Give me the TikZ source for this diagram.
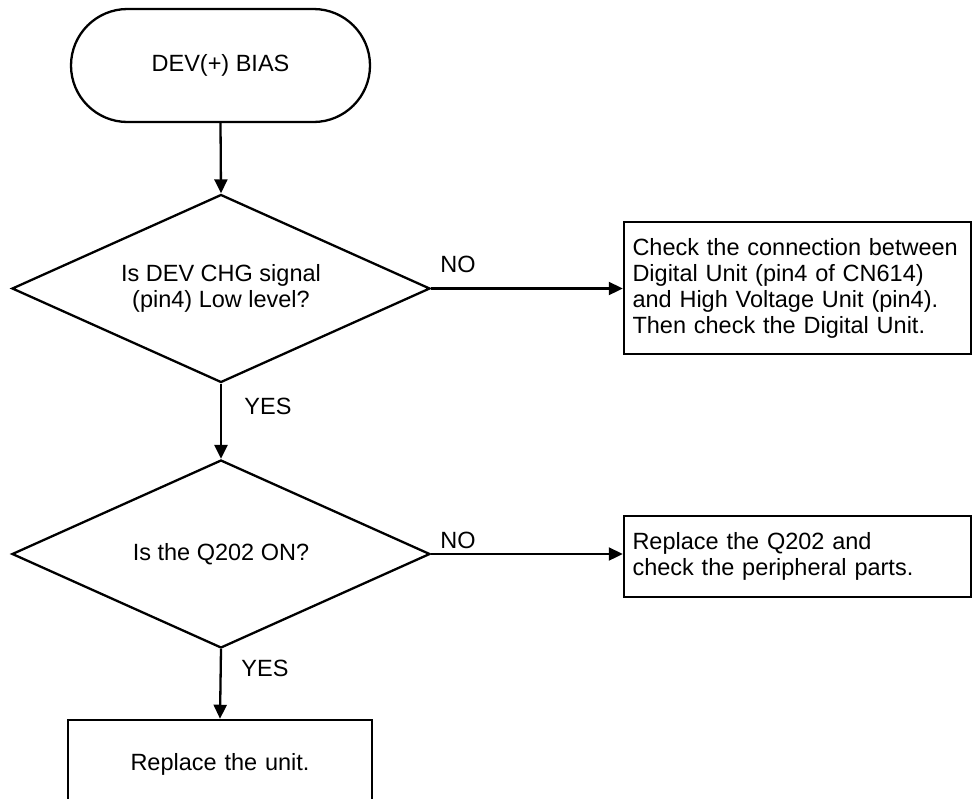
\documentclass[tikz,border=0pt]{standalone}
\usepackage{fontspec}
\setmainfont{Liberation Sans}
\usetikzlibrary{positioning, arrows.meta, shapes.geometric, shapes.misc}
\tikzset{
  term/.style={rounded rectangle, draw, line width=2.3pt, minimum width=299pt,
    minimum height=113pt, inner sep=0pt},
  dec/.style={diamond, draw, line width=2.3pt, shape aspect=2.22, minimum width=418pt,
    minimum height=188pt, inner sep=0pt, align=center},
  act/.style={rectangle, draw, line width=2.5pt, text width=330pt, align=left,
    inner xsep=8.5pt, inner ysep=0pt, minimum width=347pt},
  flow/.style={line width=2.3pt, -{Triangle[length=14pt, width=13pt]}},
  lbl/.style={inner sep=0pt},
}

\begin{document}
\begin{tikzpicture}[x=1pt, y=-1pt, font=\fontsize{23.5}{26}\selectfont]
\clip (0,0) rectangle (973,798);

% ── Columna izquierda ───────────────────────────────────────
\node[term] (start) at (220.5, 65.5) {DEV(+) BIAS};

\node[dec] (chg) at (221, 288.5) {Is DEV CHG signal\\(pin4) Low level?};

\node[dec] (q202) at (221, 554) {Is the Q202 ON?};

\node[act, text width=287pt, align=center, minimum width=304pt,
  minimum height=88pt] (unit) at (220, 764) {Replace the unit.};

% ── Columna derecha ─────────────────────────────────────────
\node[act, minimum height=132pt] (conn) at (797.5, 288) {Check the connection between\\
  Digital Unit (pin4 of CN614)\\
  and High Voltage Unit (pin4).\\
  Then check the Digital Unit.};

\node[act, minimum height=81pt] (repl) at (797.5, 556.5) {Replace the Q202 and\\
  check the peripheral parts.};

% ── Flechas ─────────────────────────────────────────────────
\draw[flow] (start.south) -- (chg.north);
\draw[flow] (chg.south) -- (q202.north);
\draw[flow] (q202.south) -- (unit.north);
\draw[flow] (chg.east) -- (chg.east -| conn.west);
\draw[flow] (q202.east) -- (q202.east -| repl.west);

% etiquetas
\node[lbl] (no1) at (458, 264) {NO};
\node[lbl] (yes1) at (268, 406) {YES};
\node[lbl] (no2) at (458, 540) {NO};
\node[lbl] (yes2) at (265, 668) {YES};

\end{tikzpicture}
\end{document}
